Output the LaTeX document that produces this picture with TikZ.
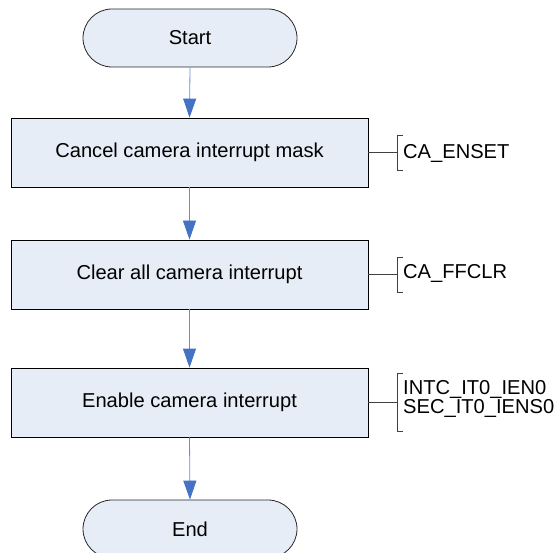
\documentclass[tikz,border=0pt]{standalone}
\usepackage{fontspec}
\setmainfont{Liberation Sans}
\usetikzlibrary{arrows.meta}
\definecolor{boxfill}{HTML}{E7EDF7}
\definecolor{arrowblue}{HTML}{4472C4}
\definecolor{annot}{HTML}{404040}
\begin{document}
\begin{tikzpicture}[x=1bp,y=-1bp,
  every node/.style={font=\fontsize{20.2}{19.6}\selectfont},
  termbox/.style={draw=black!85,fill=boxfill,line width=0.8bp,minimum width=214bp,minimum height=58bp,rounded corners=29bp,inner sep=0pt},
  stepbox/.style={draw=black,fill=boxfill,line width=0.8bp,minimum width=357bp,minimum height=69bp,inner sep=0pt},
  flow/.style={draw=arrowblue!80,line width=0.8bp,-{Triangle[length=19bp,width=13bp,fill=arrowblue,color=arrowblue]}},
  annline/.style={draw=annot,line width=0.8bp},
  annlabel/.style={anchor=west,align=left,inner sep=0pt}]
\useasboundingbox (0,0) rectangle (558,553);
\node[termbox] (start) at (190,38) {Start};
\node[stepbox] (s1) at (189.5,152.5) {\raisebox{-1.5bp}{Cancel camera interrupt mask}};
\node[stepbox] (s2) at (189.5,274.5) {\raisebox{-1.5bp}{Clear all camera interrupt}};
\node[stepbox] (s3) at (189.5,402.5) {\raisebox{-1.5bp}{Enable camera interrupt}};
\node[termbox] (end) at (190,529) {End};
\draw[flow] (start.south) -- (s1.north);
\draw[flow] (s1.south) -- (s2.north);
\draw[flow] (s2.south) -- (s3.north);
\draw[flow] (s3.south) -- (end.north);
% annotations
\coordinate (b1) at (397,152.5);
\coordinate (b2) at (397,274.5);
\coordinate (b3) at (397,402.5);
\draw[annline] (s1.east) -- (b1);
\draw[annline] ([xshift=6]397,135) -- (397,135) -- (397,170) -- ([xshift=6]397,170);
\node[annlabel] (a1) at (403,153.5) {CA\_ENSET};
\draw[annline] (s2.east) -- (b2);
\draw[annline] ([xshift=6]397,257) -- (397,257) -- (397,292) -- ([xshift=6]397,292);
\node[annlabel] (a2) at (403,273) {CA\_FFCLR};
\draw[annline] (s3.east) -- (b3);
\draw[annline] ([xshift=6]397,373) -- (397,373) -- (397,431) -- ([xshift=6]397,431);
\node[annlabel] (a3) at (403,399) {INTC\_IT0\_IEN0\\SEC\_IT0\_IENS0};
\end{tikzpicture}
\end{document}
